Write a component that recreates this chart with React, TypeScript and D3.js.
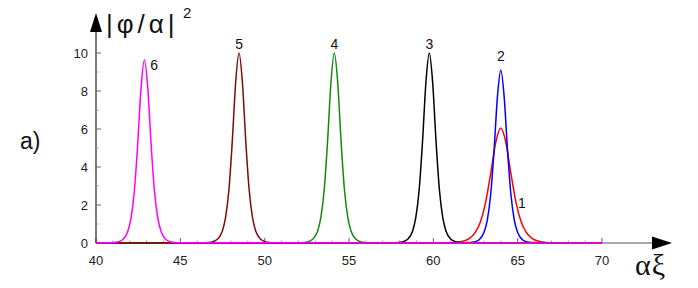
import React from "react";
import * as d3 from "d3";

// x positions (αξ) and y values |φ/α|^2
const X6 = [40, 40.87, 41.27, 41.57, 41.87, 42.07, 42.27, 42.47, 42.67, 42.87, 43.07, 43.27, 43.47, 43.67, 43.87, 44.17, 44.47, 44.87, 70];
const Y6 = [0, 0.01, 0.05, 0.17, 0.58, 1.28, 2.7, 5.16, 8.15, 9.65, 8.15, 5.16, 2.7, 1.28, 0.58, 0.17, 0.05, 0.01, 0];

const X5 = [40, 46.48, 46.88, 47.18, 47.48, 47.68, 47.88, 48.08, 48.28, 48.48, 48.68, 48.88, 49.08, 49.28, 49.48, 49.78, 50.08, 50.48, 70];
const Y5 = [0, 0.01, 0.05, 0.18, 0.6, 1.33, 2.8, 5.35, 8.45, 10, 8.45, 5.35, 2.8, 1.33, 0.6, 0.18, 0.05, 0.01, 0];

const X4 = [40, 52.13, 52.53, 52.83, 53.13, 53.33, 53.53, 53.73, 53.93, 54.13, 54.33, 54.53, 54.73, 54.93, 55.13, 55.43, 55.73, 56.13, 70];
const Y4 = [0, 0.01, 0.05, 0.18, 0.6, 1.33, 2.8, 5.35, 8.45, 10, 8.45, 5.35, 2.8, 1.33, 0.6, 0.18, 0.05, 0.01, 0];

const X3 = [40, 57.76, 58.16, 58.46, 58.76, 58.96, 59.16, 59.36, 59.56, 59.76, 59.96, 60.16, 60.36, 60.56, 60.76, 61.06, 61.36, 61.76, 70];
const Y3 = [0, 0.01, 0.05, 0.18, 0.6, 1.33, 2.8, 5.35, 8.45, 10, 8.45, 5.35, 2.8, 1.33, 0.6, 0.18, 0.05, 0.01, 0];

const X2 = [40, 62.0, 62.4, 62.7, 63.0, 63.2, 63.4, 63.6, 63.8, 64.0, 64.2, 64.4, 64.6, 64.8, 65.0, 65.3, 65.6, 66.0, 70];
const Y2 = [0, 0.01, 0.05, 0.16, 0.55, 1.21, 2.55, 4.87, 7.69, 9.1, 7.69, 4.87, 2.55, 1.21, 0.55, 0.16, 0.05, 0.01, 0];

const X1 = [40, 61.0, 61.6, 62.1, 62.5, 62.8, 63.1, 63.4, 63.7, 64.0, 64.3, 64.6, 64.9, 65.2, 65.5, 65.9, 66.4, 67.0, 70];
const Y1 = [0, 0.015, 0.065, 0.22, 0.57, 1.13, 2.14, 3.65, 5.29, 6.05, 5.29, 3.65, 2.14, 1.13, 0.57, 0.22, 0.065, 0.015, 0];

const CURVES = [
  { id: "1", xs: X1, ys: Y1, color: "#ff0000" },
  { id: "2", xs: X2, ys: Y2, color: "#0000ff" },
  { id: "3", xs: X3, ys: Y3, color: "#000000" },
  { id: "4", xs: X4, ys: Y4, color: "#118a11" },
  { id: "5", xs: X5, ys: Y5, color: "#7d0c0c" },
  { id: "6", xs: X6, ys: Y6, color: "#ff00ff" },
];

// curve labels, in data units
const LABELS = [
  { t: "1", x: 65.25, y: 2.1 },
  { t: "2", x: 64.0, y: 9.85 },
  { t: "3", x: 59.76, y: 10.5 },
  { t: "4", x: 54.13, y: 10.45 },
  { t: "5", x: 48.48, y: 10.5 },
  { t: "6", x: 43.45, y: 9.35 },
];

const X_MAJOR = [40, 45, 50, 55, 60, 65, 70];
const Y_MAJOR = [0, 2, 4, 6, 8, 10];

export default function App() {
  const width = 698, height = 288;
  const x = d3.scaleLinear().domain([40, 70]).range([96, 602]);
  const y = d3.scaleLinear().domain([0, 10]).range([243, 53]);
  const font = "'Liberation Sans', Arial, sans-serif";

  const line = (xs: number[], ys: number[]) =>
    d3.line<number>()
      .x((d, i) => x(xs[i]))
      .y(d => y(d))
      .curve(d3.curveMonotoneX)(ys) || "";

  const xMinor = d3.range(40, 71, 1).filter(v => v % 5 !== 0);
  const yMinor = [1, 3, 5, 7, 9];
  const x0 = x(40), y0 = y(0);

  return (
    <svg width={width} height={height} style={{ position: "absolute", left: 0, top: 0, background: "#fff" }}>
      {/* x axis */}
      <line x1={x0} x2={655} y1={y0} y2={y0} stroke="#555" strokeWidth={1.2} />
      <path d={`M652,${y0 - 6.5} L672,${y0} L652,${y0 + 6.5} Z`} fill="#000" />
      {X_MAJOR.map(v => (
        <g key={v}>
          <line x1={x(v)} x2={x(v)} y1={y0} y2={y0 - 5} stroke="#666" strokeWidth={1} />
          <text x={x(v)} y={265} textAnchor="middle" fontFamily={font} fontSize={13} fill="#222">{v}</text>
        </g>
      ))}
      {xMinor.map(v => (
        <line key={v} x1={x(v)} x2={x(v)} y1={y0} y2={y0 - 2.5} stroke="#999" strokeWidth={1} />
      ))}

      {/* y axis */}
      <line x1={x0} x2={x0} y1={y0} y2={28} stroke="#222" strokeWidth={1.2} />
      <path d={`M${x0 - 6},32 L${x0},13 L${x0 + 6},32 Z`} fill="#000" />
      {Y_MAJOR.map(v => (
        <g key={v}>
          <line x1={x0} x2={x0 + 5} y1={y(v)} y2={y(v)} stroke="#666" strokeWidth={1} />
          <text x={88} y={y(v) + 4.5} textAnchor="end" fontFamily={font} fontSize={13} fill="#222">{v}</text>
        </g>
      ))}
      {yMinor.map(v => (
        <line key={v} x1={x0} x2={x0 + 2.5} y1={y(v)} y2={y(v)} stroke="#999" strokeWidth={1} />
      ))}

      {/* curves */}
      {CURVES.map(c => (
        <path key={c.id} d={line(c.xs, c.ys)} fill="none" stroke={c.color} strokeWidth={1.5} />
      ))}

      {LABELS.map(l => (
        <text key={l.t} x={x(l.x)} y={y(l.y) + 5} textAnchor="middle" fontFamily={font} fontSize={14} fill="#111">{l.t}</text>
      ))}

      {/* titles */}
      <text x={106} y={33} fontFamily={font} fontSize={26} letterSpacing={4} fill="#111">|φ/α|</text>
      <text x={183} y={18} fontFamily={font} fontSize={15} fill="#111">2</text>
      <text x={635} y={275} fontFamily="'Liberation Serif', 'DejaVu Serif', serif" fontSize={30} letterSpacing={1} fill="#111">αξ</text>
      <text x={20} y={149} fontFamily={font} fontSize={23} fill="#111">a)</text>
    </svg>
  );
}
